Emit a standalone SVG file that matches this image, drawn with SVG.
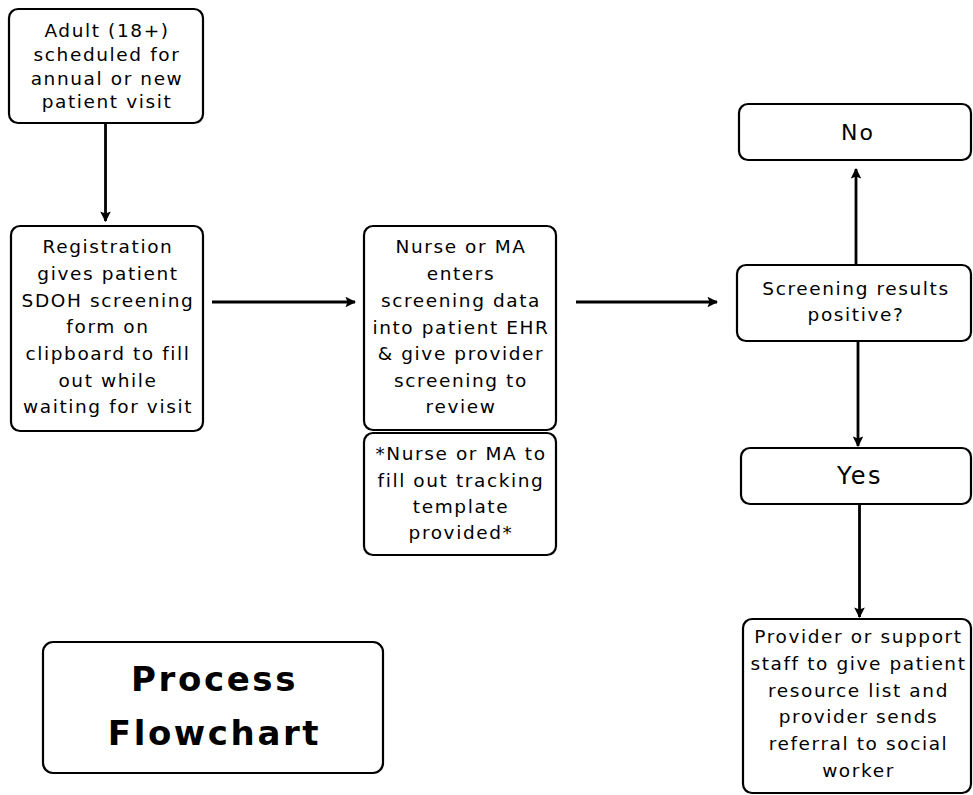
<svg xmlns="http://www.w3.org/2000/svg" width="973" height="795" viewBox="0 0 973 795">
<style>
.box{fill:#fff;stroke:#000;stroke-width:2.2}
.t{font-family:"DejaVu Sans","Liberation Sans",sans-serif;font-size:18.5px;letter-spacing:1.6px;fill:#000;text-anchor:middle}
.big{font-size:22px;letter-spacing:2px}
.yes{font-size:24px;letter-spacing:2.5px}
.title{font-family:"DejaVu Sans","Liberation Sans",sans-serif;font-weight:bold;font-size:34px;letter-spacing:2.6px;fill:#000;text-anchor:middle}
.c{stroke:#000;stroke-width:2.8;fill:none;marker-end:url(#ah)}
</style>
<defs>
<marker id="ah" viewBox="0 0 10 10" refX="9" refY="5" markerWidth="3.8" markerHeight="3.8" orient="auto" markerUnits="strokeWidth">
<path d="M0,0 L10,5 L0,10 L2,5 z" fill="#000"/>
</marker>
</defs>
<rect width="973" height="795" fill="#fff"/>
<g id="connectors">
<line class="c" x1="105.5" y1="123" x2="105.5" y2="221"/>
<line class="c" x1="212" y1="302" x2="355" y2="302"/>
<line class="c" x1="576" y1="302" x2="717" y2="302"/>
<line class="c" x1="856" y1="265" x2="856" y2="169"/>
<line class="c" x1="858" y1="341" x2="858" y2="446"/>
<line class="c" x1="859.5" y1="504" x2="859.5" y2="617"/>
</g>
<g id="n-adult">
<rect class="box" x="9" y="9" width="194" height="114" rx="9"/>
<text class="t" x="107" y="37">Adult (18+)</text>
<text class="t" x="107" y="61">scheduled for</text>
<text class="t" x="107" y="84.5">annual or new</text>
<text class="t" x="107" y="108">patient visit</text>
</g>
<g id="n-registration">
<rect class="box" x="11" y="226" width="192" height="205" rx="9"/>
<text class="t" x="108" y="253">Registration</text>
<text class="t" x="108" y="280">gives patient</text>
<text class="t" x="108" y="306.5">SDOH screening</text>
<text class="t" x="108" y="333">form on</text>
<text class="t" x="108" y="360">clipboard to fill</text>
<text class="t" x="108" y="386.5">out while</text>
<text class="t" x="108" y="413">waiting for visit</text>
</g>
<g id="n-nurse">
<rect class="box" x="364" y="226" width="192" height="204" rx="9"/>
<text class="t" x="461" y="253">Nurse or MA</text>
<text class="t" x="461" y="280">enters</text>
<text class="t" x="461" y="306.5">screening data</text>
<text class="t" x="461" y="333.5">into patient EHR</text>
<text class="t" x="461" y="360">&amp; give provider</text>
<text class="t" x="461" y="387">screening to</text>
<text class="t" x="461" y="413">review</text>
</g>
<g id="n-tracking">
<rect class="box" x="364" y="433" width="192" height="122" rx="9"/>
<text class="t" x="461" y="460">*Nurse or MA to</text>
<text class="t" x="461" y="487">fill out tracking</text>
<text class="t" x="461" y="513">template</text>
<text class="t" x="461" y="539">provided*</text>
</g>
<g id="n-no">
<rect class="box" x="739" y="104" width="232" height="56" rx="9"/>
<text class="t big" x="858" y="140">No</text>
</g>
<g id="n-screening">
<rect class="box" x="737" y="265" width="234" height="76" rx="9"/>
<text class="t" x="856" y="295">Screening results</text>
<text class="t" x="856" y="321">positive?</text>
</g>
<g id="n-yes">
<rect class="box" x="741" y="448" width="230" height="56" rx="9"/>
<text class="t yes" x="860" y="484">Yes</text>
</g>
<g id="n-provider">
<rect class="box" x="743" y="619" width="228" height="174" rx="9"/>
<text class="t" x="858.5" y="643">Provider or support</text>
<text class="t" x="858.5" y="670">staff to give patient</text>
<text class="t" x="858.5" y="697">resource list and</text>
<text class="t" x="858.5" y="723">provider sends</text>
<text class="t" x="858.5" y="750">referral to social</text>
<text class="t" x="858.5" y="777">worker</text>
</g>
<g id="n-title">
<rect class="box" x="43" y="642" width="340" height="131" rx="10"/>
<text class="title" x="214.5" y="691">Process</text>
<text class="title" x="214.5" y="745">Flowchart</text>
</g>
</svg>
